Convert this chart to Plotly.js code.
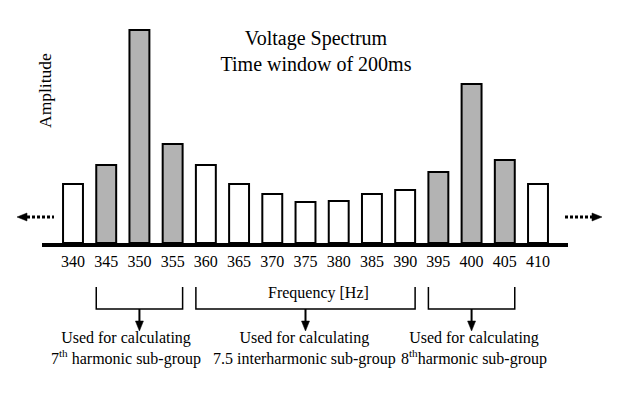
<!DOCTYPE html>
<html>
<head>
<meta charset="utf-8">
<script src="https://cdn.plot.ly/plotly-3.0.1.min.js"></script>
<style>html,body{margin:0;padding:0;background:#fff;}#chart{width:622px;height:393px;}</style>
</head>
<body>
<div id="chart"></div>
<script>
// ---- data ----
var frequencies = [340, 345, 350, 355, 360, 365, 370, 375, 380, 385, 390, 395, 400, 405, 410];
var amplitudes  = [59, 78, 213, 99, 78, 59, 49, 41, 42, 49, 53, 71, 159, 83, 59];
var tickLabels  = ["340","345","350","355","360","365","370","375","380","385","390","395","400","405","410"];
var harmonic7Group      = [345, 350, 355];
var interharmonicGroup  = [360, 365, 370, 375, 380, 385, 390];
var harmonic8Group      = [395, 400, 405];
var groupLabels = [
  "Used for calculating<br>7<sup>th</sup> harmonic sub-group",
  "Used for calculating<br>7.5 interharmonic sub-group",
  "Used for calculating<br>8<sup>th</sup>harmonic sub-group"
];
var titleText = "Voltage Spectrum<br>Time window of 200ms";
var yLabel = "Amplitude";
var xLabel = "Frequency [Hz]";

// ---- styling / layout helpers ----
var FONT = "Liberation Serif, Times New Roman, serif";
var GRAY = "#b3b3b3";
var barWidth = 3;
var half = barWidth / 2;
var xRange = [329.011, 422.644];
var pxPerUnit = 622 / (xRange[1] - xRange[0]);

var harmonicAll = harmonic7Group.concat(harmonic8Group);
var colors = frequencies.map(function (f) { return harmonicAll.indexOf(f) >= 0 ? GRAY : "#ffffff"; });

var trace = {
  type: "bar",
  x: frequencies,
  y: amplitudes,
  width: barWidth,
  marker: { color: colors, line: { color: "#000", width: 2 } },
  hoverinfo: "x+y"
};

var shapes = [];
// baseline
shapes.push({ type: "line", xref: "paper", yref: "y", x0: 42 / 622, x1: 568 / 622, y0: -2, y1: -2,
  line: { color: "#000", width: 4 } });

function bracket(group) {
  var x0 = Math.min.apply(null, group) - half;
  var x1 = Math.max.apply(null, group) + half;
  var xc = (Math.min.apply(null, group) + Math.max.apply(null, group)) / 2;
  shapes.push({ type: "path", xref: "x", yref: "y",
    path: "M" + x0 + ",-44 L" + x0 + ",-66 L" + x1 + ",-66 L" + x1 + ",-44",
    line: { color: "#000", width: 1.5 } });
  shapes.push({ type: "line", xref: "x", yref: "y", x0: xc, x1: xc, y0: -66, y1: -80,
    line: { color: "#000", width: 2 } });
  var hw = 4 / pxPerUnit;
  shapes.push({ type: "path", xref: "x", yref: "y",
    path: "M" + (xc - hw) + ",-78 L" + (xc + hw) + ",-78 L" + xc + ",-88 Z",
    fillcolor: "#000", line: { color: "#000", width: 0.5 } });
}
bracket(harmonic7Group);
bracket(interharmonicGroup);
bracket(harmonic8Group);

// dotted side arrows
function px(p) { return p / 622; }
shapes.push({ type: "line", xref: "paper", yref: "y", x0: px(27), x1: px(54), y0: 26, y1: 26,
  line: { color: "#000", width: 3, dash: "3px,2px" } });
shapes.push({ type: "path", xref: "paper", yref: "y",
  path: "M" + px(27) + ",30 L" + px(27) + ",22 L" + px(17) + ",26 Z",
  fillcolor: "#000", line: { color: "#000", width: 0.5 } });
shapes.push({ type: "line", xref: "paper", yref: "y", x0: px(565), x1: px(592), y0: 26, y1: 26,
  line: { color: "#000", width: 3, dash: "3px,2px" } });
shapes.push({ type: "path", xref: "paper", yref: "y",
  path: "M" + px(592) + ",30 L" + px(592) + ",22 L" + px(602) + ",26 Z",
  fillcolor: "#000", line: { color: "#000", width: 0.5 } });

var annotations = [
  { text: yLabel, xref: "paper", yref: "paper", x: 45 / 622, y: (393 - 91) / 393, textangle: -90,
    showarrow: false, font: { family: FONT, size: 17.5, color: "#000" }, xanchor: "center", yanchor: "middle" },
  { text: xLabel, xref: "x", yref: "y", x: 376.9, y: -50, showarrow: false,
    font: { family: FONT, size: 16, color: "#000" }, xanchor: "center", yanchor: "middle" }
];
var groupTextX = [348, 374.8, 400.35];
groupLabels.forEach(function (t, i) {
  annotations.push({ text: t, xref: "x", yref: "y", x: groupTextX[i], y: -105.5, showarrow: false,
    font: { family: FONT, size: 16, color: "#000" }, xanchor: "center", yanchor: "middle", align: "center" });
});

var layout = {
  width: 622, height: 393,
  margin: { l: 0, r: 0, t: 0, b: 0 },
  paper_bgcolor: "#fff", plot_bgcolor: "#fff",
  showlegend: false,
  title: { text: titleText, x: 316 / 622, xanchor: "center", xref: "paper",
    y: 1 - 45 / 393, yanchor: "top", yref: "container",
    font: { family: FONT, size: 20, color: "#000" } },
  xaxis: { range: xRange, anchor: "free", position: (393 - 250) / 393,
    tickvals: frequencies, ticktext: tickLabels, ticks: "", showgrid: false, zeroline: false,
    showline: false, tickfont: { family: FONT, size: 16, color: "#000" }, fixedrange: true },
  yaxis: { range: [-150, 243], visible: false, fixedrange: true },
  shapes: shapes,
  annotations: annotations
};

Plotly.newPlot("chart", [trace], layout, { displayModeBar: false, staticPlot: true });
</script>
</body>
</html>
